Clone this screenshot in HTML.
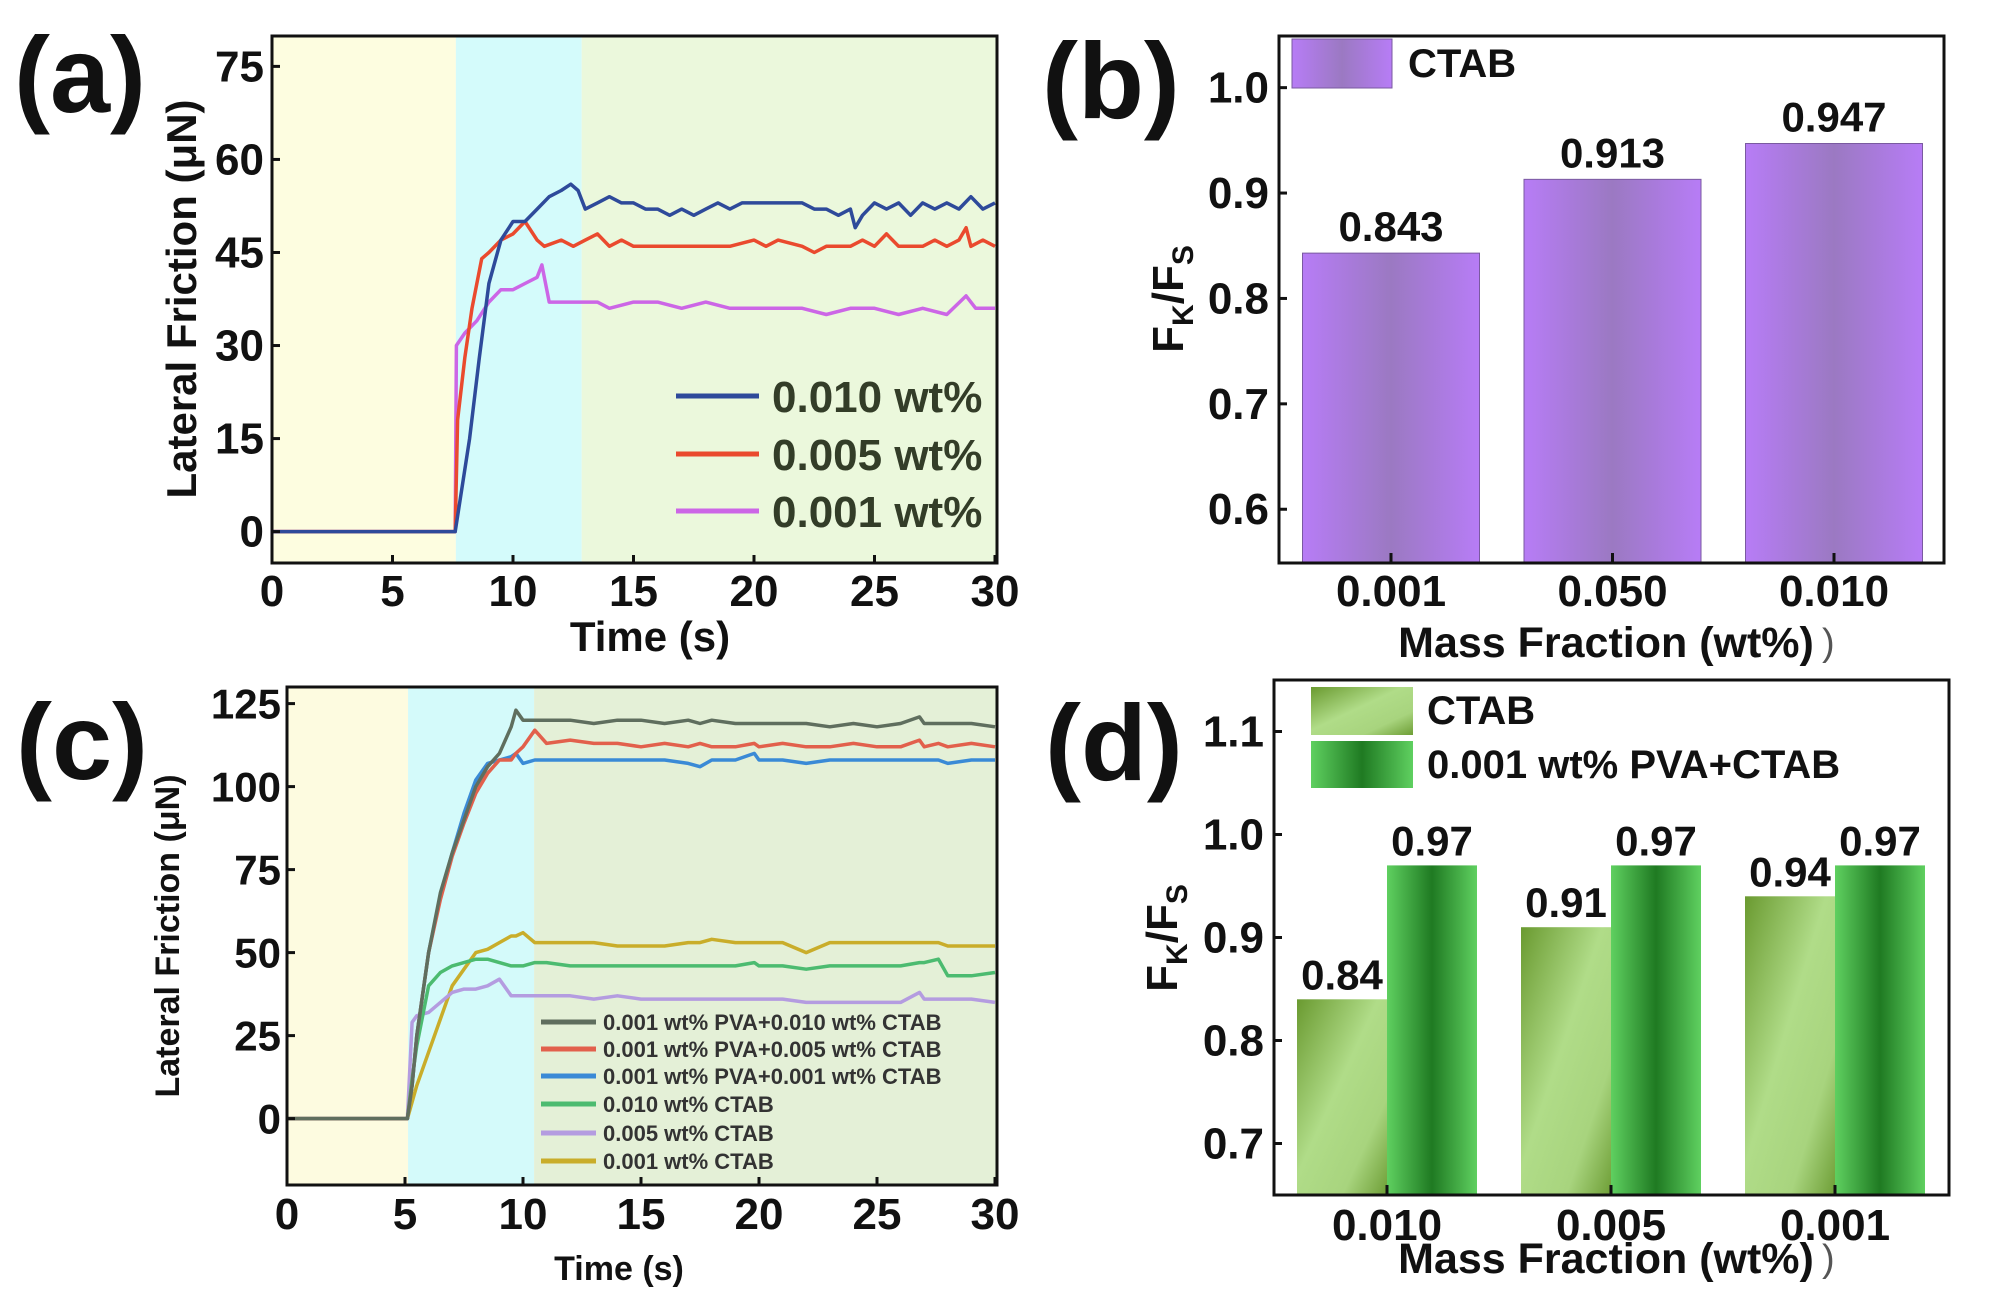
<!DOCTYPE html>
<html><head><meta charset="utf-8">
<style>
html,body{margin:0;padding:0;background:#fff;}
svg{display:block;font-family:"Liberation Sans",Arial,sans-serif;font-weight:bold;}
</style></head>
<body>
<svg id="fig" width="2000" height="1311" viewBox="0 0 2000 1311" xmlns="http://www.w3.org/2000/svg">
<defs>
<linearGradient id="gPurple" x1="0" x2="1" y1="0" y2="0">
<stop offset="0" stop-color="#b77cf6"/><stop offset="0.5" stop-color="#9b79c2"/><stop offset="1" stop-color="#b77cf6"/></linearGradient>
<linearGradient id="gLight" x1="0" y1="0" x2="1" y2="1">
<stop offset="0" stop-color="#6a9a30"/><stop offset="0.45" stop-color="#b0dc88"/><stop offset="0.75" stop-color="#a8d47e"/><stop offset="1" stop-color="#6e9e36"/></linearGradient>
<linearGradient id="gDark" x1="0" x2="1" y1="0" y2="0">
<stop offset="0" stop-color="#5fd060"/><stop offset="0.5" stop-color="#1f7a22"/><stop offset="1" stop-color="#5fd060"/></linearGradient>
</defs>
</svg>
<script>
// ---------- Panel (a) data ----------
const aTicksX = [0,5,10,15,20,25,30];
const aTicksY = [0,15,30,45,60,75];
const aBlueT = [0,7.6,7.8,8.2,8.6,9,9.5,10,10.5,11,11.5,12,12.4,12.7,13,13.5,14,14.5,15,15.5,16,16.5,17,17.5,18,18.5,19,19.5,20,21,22,22.5,23,23.5,24,24.2,24.5,25,25.5,26,26.5,27,27.5,28,28.5,29,29.5,30];
const aBlueV = [0,0,5,15,28,40,47,50,50,52,54,55,56,55,52,53,54,53,53,52,52,51,52,51,52,53,52,53,53,53,53,52,52,51,52,49,51,53,52,53,51,53,52,53,52,54,52,53];
const aRedT = [0,7.6,7.7,8,8.3,8.7,9,9.5,10,10.5,11,11.3,12,12.5,13,13.5,14,14.5,15,16,17,18,19,20,20.5,21,22,22.5,23,24,24.5,25,25.5,26,27,27.5,28,28.5,28.8,29,29.5,30];
const aRedV = [0,0,18,28,36,44,45,47,48,50,47,46,47,46,47,48,46,47,46,46,46,46,46,47,46,47,46,45,46,46,47,46,48,46,46,47,46,47,49,46,47,46];
const aPurT = [0,7.6,7.65,8,8.5,9,9.5,10,10.5,11,11.2,11.5,12,12.5,13,13.5,14,15,16,17,18,19,20,21,22,23,24,25,26,27,28,28.8,29.2,30];
const aPurV = [0,0,30,32,34,37,39,39,40,41,43,37,37,37,37,37,36,37,37,36,37,36,36,36,36,35,36,36,35,36,35,38,36,36];
const aLegend = ["0.010 wt%","0.005 wt%","0.001 wt%"];
// ---------- Panel (b) data ----------
const bCats = ["0.001","0.050","0.010"];
const bVals = [0.843,0.913,0.947];
const bLabels = ["0.843","0.913","0.947"];
const bTicksY = [0.6,0.7,0.8,0.9,1.0];
// ---------- Panel (c) data ----------
const cTicksX = [0,5,10,15,20,25,30];
const cTicksY = [0,25,50,75,100,125];
const cT = [0,5.1,5.3,5.5,6,6.5,7,7.5,8,8.5,9,9.5,9.7,10,10.5,11,12,13,14,15,16,17,17.5,18,19,19.8,20,21,22,23,24,25,26,26.8,27,27.6,28,29,30];
const cGray = [0,0,10,25,50,68,80,90,100,106,110,118,123,120,120,120,120,119,120,120,119,120,119,120,119,119,119,119,119,118,119,118,119,121,119,119,119,119,118];
const cRed = [0,0,10,25,50,66,79,89,98,104,108,108,110,112,117,113,114,113,113,112,113,112,113,112,112,113,112,113,112,112,113,112,112,114,112,113,112,113,112];
const cBlue = [0,0,10,25,50,67,80,92,102,107,108,109,110,107,108,108,108,108,108,108,108,107,106,108,108,110,108,108,107,108,108,108,108,108,108,108,107,108,108];
const cGreen = [0,0,12,22,40,44,46,47,48,48,47,46,46,46,47,47,46,46,46,46,46,46,46,46,46,47,46,46,45,46,46,46,46,47,47,48,43,43,44];
const cLav = [0,0,29,31,32,35,38,39,39,40,42,37,37,37,37,37,37,36,37,36,36,36,36,36,36,36,36,36,35,35,35,35,35,38,36,36,36,36,35];
const cOlive = [0,0,5,10,20,30,40,45,50,51,53,55,55,56,53,53,53,53,52,52,52,53,53,54,53,53,53,53,50,53,53,53,53,53,53,53,52,52,52];
const cLegend = ["0.001 wt% PVA+0.010 wt% CTAB","0.001 wt% PVA+0.005 wt% CTAB","0.001 wt% PVA+0.001 wt% CTAB","0.010 wt% CTAB","0.005 wt% CTAB","0.001 wt% CTAB"];
// ---------- Panel (d) data ----------
const dCats = ["0.010","0.005","0.001"];
const dCtab = [0.84,0.91,0.94];
const dPva = [0.97,0.97,0.97];
const dCtabLabels = ["0.84","0.91","0.94"];
const dPvaLabels = ["0.97","0.97","0.97"];
const dTicksY = [0.7,0.8,0.9,1.0,1.1];

const NS = "http://www.w3.org/2000/svg";
const svg = document.getElementById('fig');
function mk(tag, attrs, parent, text){
  const e = document.createElementNS(NS, tag);
  for (const k in attrs) e.setAttribute(k, attrs[k]);
  if (text !== undefined) e.textContent = text;
  (parent || svg).appendChild(e);
  return e;
}
function lin(d0,d1,r0,r1){ return v => r0 + (v-d0)/(d1-d0)*(r1-r0); }
function fmt(v,dec){ return v.toFixed(dec); }

// ================= Panel (a) =================
(function(){
  const L=272,R=997,T=36,B=563;
  const x=lin(0,30,L,995), y=lin(-5.06,79.9,B,T);
  const g=mk('g',{});
  
  
  const r1=mk('rect',{x:L,y:T,width:x(7.63)-L,height:B-T,fill:'#fdfde0'},g);
   
  const r2=mk('rect',{x:x(7.63),y:T,width:x(12.85)-x(7.63),height:B-T,fill:'#d4fbfb'},g);
   
  const r3=mk('rect',{x:x(12.85),y:T,width:R-x(12.85),height:B-T,fill:'#ebf8dc'},g);
   
  const series=[[aPurT,aPurV,'#cc66e6','series-0.001'],[aRedT,aRedV,'#ea4a2e','series-0.005'],[aBlueT,aBlueV,'#2e4a9a','series-0.010']];
  series.forEach(s=>{
    const pts=s[0].map((t,i)=>x(t).toFixed(1)+','+y(s[1][i]).toFixed(1)).join(' ');
    const p=mk('polyline',{points:pts,fill:'none',stroke:s[2],'stroke-width':3.5,'stroke-linejoin':'round'},g);
     
  });
  const fr=mk('rect',{x:L,y:T,width:R-L,height:B-T,fill:'none',stroke:'#111','stroke-width':3},g);
   
  aTicksY.forEach(v=>{
    mk('line',{x1:L,x2:L+8,y1:y(v),y2:y(v),stroke:'#111','stroke-width':3},g);
    const t=mk('text',{x:L-8,y:y(v)+15,'text-anchor':'end','font-size':44,fill:'#111'},g,String(v));
     
  });
  aTicksX.forEach(v=>{
    mk('line',{x1:x(v),x2:x(v),y1:B,y2:B-8,stroke:'#111','stroke-width':3},g);
    const t=mk('text',{x:x(v),y:606,'text-anchor':'middle','font-size':44,fill:'#111'},g,String(v));
     
  });
  const xt=mk('text',{x:650,y:651,'text-anchor':'middle','font-size':42,fill:'#111'},g,'Time (s)');
   
  const yt=mk('text',{x:0,y:0,transform:'translate(196,299) rotate(-90)','text-anchor':'middle','font-size':42,fill:'#111'},g,'Lateral Friction (μN)');
   
  const lab=mk('text',{x:14,y:112,'font-size':108,fill:'#111'},g,'(a)');
   
  const cols=['#2e4a9a','#ea4a2e','#cc66e6'], ly=[396,454,511];
  aLegend.forEach((s,i)=>{
    const ln=mk('line',{x1:676,x2:759,y1:ly[i],y2:ly[i],stroke:cols[i],'stroke-width':5},g);
     
    const t=mk('text',{x:772,y:ly[i]+16,'font-size':44,fill:'#333d28'},g,s);
     
  });
})();

// ================= Panel (b) =================
(function(){
  const L=1279,R=1944,T=36,B=563;
  const y=lin(0.549,1.049,B,T);
  const xc=i=>1391+i*221.5;
  const g=mk('g',{});
  
  
  bVals.forEach((v,i)=>{
    const r=mk('rect',{x:xc(i)-88.5,y:y(v),width:177,height:B-y(v),fill:'url(#gPurple)',stroke:'#7a5aa0','stroke-width':1},g);
     
    const t=mk('text',{x:xc(i),y:y(v)-12,'text-anchor':'middle','font-size':42,fill:'#111'},g,bLabels[i]);
     
  });
  const fr=mk('rect',{x:L,y:T,width:R-L,height:B-T,fill:'none',stroke:'#111','stroke-width':3},g);
   
  bTicksY.forEach(v=>{
    mk('line',{x1:L,x2:L+8,y1:y(v),y2:y(v),stroke:'#111','stroke-width':3},g);
    const t=mk('text',{x:L-10,y:y(v)+15,'text-anchor':'end','font-size':44,fill:'#111'},g,fmt(v,1));
     
  });
  bCats.forEach((c,i)=>{
    mk('line',{x1:xc(i),x2:xc(i),y1:B,y2:B-10,stroke:'#111','stroke-width':3},g);
    const t=mk('text',{x:xc(i),y:606,'text-anchor':'middle','font-size':44,fill:'#111'},g,c);
     
  });
  const xt=mk('text',{x:1606,y:657,'text-anchor':'middle','font-size':43,fill:'#111'},g,'Mass Fraction (wt%)');
   
  const xp=mk('text',{x:1822,y:655,'font-size':38,'font-weight':'normal',fill:'#555'},g,')');
   
  const yt=mk('text',{x:0,y:0,transform:'translate(1183,299) rotate(-90)','text-anchor':'middle','font-size':44,fill:'#111'},g);
   
  mk('tspan',{},yt,'F'); mk('tspan',{'font-size':30,dy:10},yt,'K'); mk('tspan',{dy:-10},yt,'/F'); mk('tspan',{'font-size':30,dy:10},yt,'S');
  const lab=mk('text',{x:1042,y:118,'font-size':108,fill:'#111'},g,'(b)');
   
  const sw=mk('rect',{x:1292,y:39,width:100,height:49,fill:'url(#gPurple)',stroke:'#7a5aa0','stroke-width':1},g);
   
  const lt=mk('text',{x:1408,y:77,'font-size':40,fill:'#111'},g,'CTAB');
   
})();

// ================= Panel (c) =================
(function(){
  const L=287,R=997,T=687,B=1185;
  const x=lin(0,30,L,995), y=lin(-20,130,B,T);
  const g=mk('g',{});
  
  
  const r1=mk('rect',{x:L,y:T,width:x(5.13)-L,height:B-T,fill:'#fdfbe0'},g);
   
  const r2=mk('rect',{x:x(5.13),y:T,width:x(10.47)-x(5.13),height:B-T,fill:'#d4fafa'},g);
   
  const r3=mk('rect',{x:x(10.47),y:T,width:R-x(10.47),height:B-T,fill:'#e4f0d7'},g);
   
  const cols=['#5f6e5e','#e2604c','#3a8ad6','#4cbb70','#b49ce0','#c9ad2a'];
  const data=[cGray,cRed,cBlue,cGreen,cLav,cOlive];
  for(let k=data.length-1;k>=0;k--){
    const pts=cT.map((t,i)=>x(t).toFixed(1)+','+y(data[k][i]).toFixed(1)).join(' ');
    const p=mk('polyline',{points:pts,fill:'none',stroke:cols[k],'stroke-width':3.5,'stroke-linejoin':'round'},g);
     
  }
  const fr=mk('rect',{x:L,y:T,width:R-L,height:B-T,fill:'none',stroke:'#111','stroke-width':3},g);
   
  cTicksY.forEach(v=>{
    mk('line',{x1:L,x2:L+8,y1:y(v),y2:y(v),stroke:'#111','stroke-width':3},g);
    const t=mk('text',{x:L-6,y:y(v)+15,'text-anchor':'end','font-size':42,fill:'#111'},g,String(v));
     
  });
  cTicksX.forEach(v=>{
    mk('line',{x1:x(v),x2:x(v),y1:B,y2:B-8,stroke:'#111','stroke-width':3},g);
    const t=mk('text',{x:x(v),y:1229,'text-anchor':'middle','font-size':44,fill:'#111'},g,String(v));
     
  });
  const xt=mk('text',{x:619,y:1280,'text-anchor':'middle','font-size':34,fill:'#111'},g,'Time (s)');
   
  const yt=mk('text',{x:0,y:0,transform:'translate(179,936) rotate(-90)','text-anchor':'middle','font-size':34,fill:'#111'},g,'Lateral Friction (μN)');
   
  const lab=mk('text',{x:16,y:779,'font-size':108,fill:'#111'},g,'(c)');
   
  const ly=[1022,1049,1076,1104,1133,1161];
  cLegend.forEach((s,i)=>{
    const ln=mk('line',{x1:541,x2:596,y1:ly[i],y2:ly[i],stroke:cols[i],'stroke-width':5},g);
     
    const t=mk('text',{x:603,y:ly[i]+8,'font-size':22,fill:'#333'},g,s);
     
  });
})();

// ================= Panel (d) =================
(function(){
  const L=1274,R=1949,T=680,B=1195;
  const y=lin(0.65,1.15,B,T);
  const xc=i=>1387+i*224;
  const g=mk('g',{});
  
  
  dCats.forEach((c,i)=>{
    const r=mk('rect',{x:xc(i)-90,y:y(dCtab[i]),width:90,height:B-y(dCtab[i]),fill:'url(#gLight)'},g);
     
    const r2=mk('rect',{x:xc(i),y:y(dPva[i]),width:90,height:B-y(dPva[i]),fill:'url(#gDark)'},g);
     
    const t=mk('text',{x:xc(i)-45,y:y(dCtab[i])-10,'text-anchor':'middle','font-size':42,fill:'#111'},g,dCtabLabels[i]);
     
    const t2=mk('text',{x:xc(i)+45,y:y(dPva[i])-10,'text-anchor':'middle','font-size':42,fill:'#111'},g,dPvaLabels[i]);
     
  });
  const fr=mk('rect',{x:L,y:T,width:R-L,height:B-T,fill:'none',stroke:'#111','stroke-width':3},g);
   
  dTicksY.forEach(v=>{
    mk('line',{x1:L,x2:L+8,y1:y(v),y2:y(v),stroke:'#111','stroke-width':3},g);
    const t=mk('text',{x:L-10,y:y(v)+15,'text-anchor':'end','font-size':44,fill:'#111'},g,fmt(v,1));
     
  });
  dCats.forEach((c,i)=>{
    mk('line',{x1:xc(i),x2:xc(i),y1:B,y2:B-10,stroke:'#111','stroke-width':3},g);
    const t=mk('text',{x:xc(i),y:1240,'text-anchor':'middle','font-size':44,fill:'#111'},g,c);
     
  });
  const xt=mk('text',{x:1606,y:1273,'text-anchor':'middle','font-size':43,fill:'#111'},g,'Mass Fraction (wt%)');
   
  const xp=mk('text',{x:1822,y:1271,'font-size':38,'font-weight':'normal',fill:'#555'},g,')');
   
  const yt=mk('text',{x:0,y:0,transform:'translate(1177,938) rotate(-90)','text-anchor':'middle','font-size':44,fill:'#111'},g);
   
  mk('tspan',{},yt,'F'); mk('tspan',{'font-size':30,dy:10},yt,'K'); mk('tspan',{dy:-10},yt,'/F'); mk('tspan',{'font-size':30,dy:10},yt,'S');
  const lab=mk('text',{x:1045,y:780,'font-size':108,fill:'#111'},g,'(d)');
   
  const s1=mk('rect',{x:1311,y:687,width:102,height:48,fill:'url(#gLight)'},g);
   
  const s2=mk('rect',{x:1311,y:741,width:102,height:47,fill:'url(#gDark)'},g);
   
  const t1=mk('text',{x:1427,y:724,'font-size':40,fill:'#111'},g,'CTAB');
   
  const t2=mk('text',{x:1427,y:778,'font-size':40,fill:'#111'},g,'0.001 wt% PVA+CTAB');
   
})();
</script>
</body></html>
